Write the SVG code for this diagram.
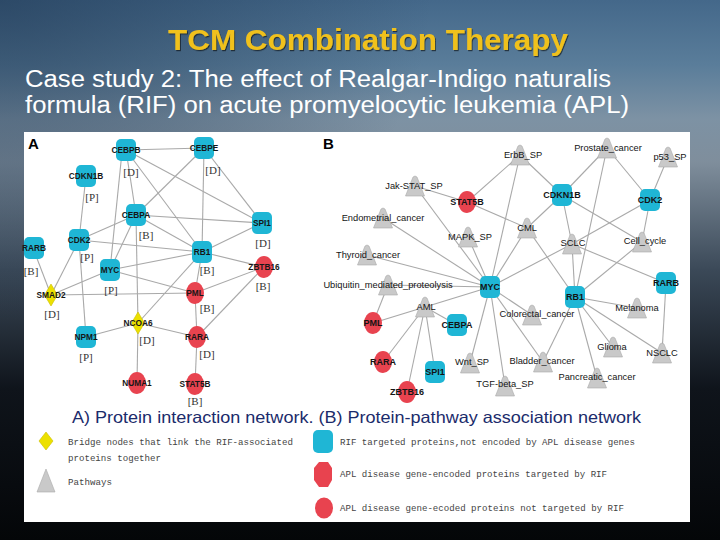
<svg xmlns="http://www.w3.org/2000/svg" xmlns:xlink="http://www.w3.org/1999/xlink" width="720" height="540" viewBox="0 0 720 540">
<defs>
<linearGradient id="bg" x1="0" y1="0" x2="0" y2="1">
<stop offset="0" stop-color="#44688a"/>
<stop offset="0.12" stop-color="#5a7d9a"/>
<stop offset="0.22" stop-color="#7d92a4"/>
<stop offset="0.3" stop-color="#7f8e9c"/>
<stop offset="0.5" stop-color="#3b4958"/>
<stop offset="0.72" stop-color="#0f141b"/>
<stop offset="1" stop-color="#040608"/>
</linearGradient>
<radialGradient id="lt" cx="0" cy="0" r="0.6">
<stop offset="0" stop-color="#1d3550" stop-opacity="0.6"/>
<stop offset="1" stop-color="#1d3550" stop-opacity="0"/>
</radialGradient>
<filter id="sh" x="-5%" y="-20%" width="110%" height="140%">
<feDropShadow dx="1" dy="1.2" stdDeviation="0.6" flood-color="#000" flood-opacity="0.55"/>
</filter>
<rect id="sq" x="-10" y="-11" width="20" height="22" rx="5"/>
<ellipse id="rc" rx="9" ry="11"/>
<polygon id="dm" points="0,-11 6.5,0 0,11 -6.5,0"/>
<polygon id="tri" points="0,-10 2,-9 9.5,10 -9.5,10 -2,-9"/>
<style>
.cy{fill:#1fb6d5}
.rd{fill:#e8434f}
.yw{fill:#ece000;stroke:#c9bd00;stroke-width:0.6}
.tr{fill:#c9c9c9;stroke:#a9a9a9;stroke-width:0.6}
.ed line{stroke:#a9a9a9;stroke-width:1.1}
.la{font-family:"Liberation Sans",Arial,sans-serif;font-size:8.3px;font-weight:bold;fill:#161616;text-anchor:middle}
.lb{font-family:"Liberation Sans",Arial,sans-serif;font-size:9.3px;fill:#141414;text-anchor:middle}
.lbp{font-family:"Liberation Sans",Arial,sans-serif;font-size:9px;font-weight:bold;fill:#141414;text-anchor:middle}
.br{font-family:"Liberation Serif","Times New Roman",serif;font-size:11px;fill:#333;text-anchor:middle}
.lg{font-family:"Liberation Mono","Courier New",monospace;font-size:9.2px;fill:#444}
.pl{font-family:"Liberation Sans",Arial,sans-serif;font-size:15px;font-weight:bold;fill:#000}
</style>
</defs>

<rect width="720" height="540" fill="url(#bg)"/>
<rect width="720" height="540" fill="url(#lt)"/>

<text x="368" y="50" font-family="Liberation Sans,Arial,sans-serif" font-size="29" font-weight="bold" fill="#f0c11e" text-anchor="middle" textLength="400" lengthAdjust="spacingAndGlyphs" filter="url(#sh)">TCM Combination Therapy</text>
<text x="25" y="87" font-family="Liberation Sans,Arial,sans-serif" font-size="23" fill="#ffffff" textLength="586" lengthAdjust="spacingAndGlyphs">Case study 2: The effect of Realgar-Indigo naturalis</text>
<text x="25" y="113" font-family="Liberation Sans,Arial,sans-serif" font-size="23" fill="#ffffff" textLength="604" lengthAdjust="spacingAndGlyphs">formula (RIF) on acute promyelocytic leukemia (APL)</text>

<rect x="24" y="132" width="666" height="390" fill="#ffffff"/>

<text class="pl" x="28" y="149">A</text>
<text class="pl" x="323" y="149">B</text>

<g id="connectors" class="ed">
<!-- Panel A -->
<line x1="126" y1="150" x2="204" y2="148"/>
<line x1="126" y1="150" x2="136" y2="215"/>
<line x1="122" y1="152" x2="110" y2="270"/>
<line x1="126" y1="150" x2="202" y2="252"/>
<line x1="126" y1="150" x2="262" y2="223"/>
<line x1="204" y1="148" x2="136" y2="215"/>
<line x1="204" y1="148" x2="202" y2="252"/>
<line x1="204" y1="148" x2="262" y2="223"/>
<line x1="86" y1="176" x2="79" y2="240"/>
<line x1="136" y1="215" x2="262" y2="223"/>
<line x1="136" y1="215" x2="202" y2="252"/>
<line x1="136" y1="215" x2="79" y2="240"/>
<line x1="136" y1="215" x2="110" y2="270"/>
<line x1="136" y1="215" x2="138" y2="323"/>
<line x1="79" y1="240" x2="202" y2="252"/>
<line x1="79" y1="240" x2="51" y2="295"/>
<line x1="79" y1="240" x2="86" y2="337"/>
<line x1="202" y1="252" x2="262" y2="223"/>
<line x1="202" y1="252" x2="264" y2="267"/>
<line x1="202" y1="252" x2="110" y2="270"/>
<line x1="202" y1="252" x2="138" y2="323"/>
<line x1="202" y1="252" x2="195" y2="293"/>
<line x1="110" y1="270" x2="51" y2="295"/>
<line x1="110" y1="270" x2="195" y2="293"/>
<line x1="33" y1="248" x2="51" y2="295"/>
<line x1="51" y1="295" x2="195" y2="293"/>
<line x1="264" y1="267" x2="195" y2="293"/>
<line x1="264" y1="267" x2="197" y2="337"/>
<line x1="195" y1="293" x2="197" y2="337"/>
<line x1="138" y1="323" x2="86" y2="337"/>
<line x1="138" y1="323" x2="197" y2="337"/>
<line x1="138" y1="323" x2="137" y2="383"/>
<line x1="197" y1="337" x2="195" y2="385"/>
<!-- Panel B -->
<line x1="520" y1="155" x2="467" y2="202"/>
<line x1="520" y1="155" x2="562" y2="195"/>
<line x1="520" y1="155" x2="490" y2="287"/>
<line x1="607" y1="148" x2="562" y2="195"/>
<line x1="607" y1="148" x2="650" y2="200"/>
<line x1="607" y1="148" x2="575" y2="297"/>
<line x1="668" y1="157" x2="650" y2="200"/>
<line x1="415" y1="186" x2="467" y2="202"/>
<line x1="415" y1="186" x2="490" y2="287"/>
<line x1="467" y1="202" x2="527" y2="228"/>
<line x1="562" y1="195" x2="527" y2="228"/>
<line x1="562" y1="195" x2="572" y2="244"/>
<line x1="562" y1="195" x2="642" y2="242"/>
<line x1="650" y1="200" x2="642" y2="242"/>
<line x1="650" y1="200" x2="572" y2="244"/>
<line x1="383" y1="218" x2="490" y2="287"/>
<line x1="468" y1="237" x2="490" y2="287"/>
<line x1="527" y1="228" x2="490" y2="287"/>
<line x1="527" y1="228" x2="575" y2="297"/>
<line x1="572" y1="244" x2="490" y2="287"/>
<line x1="572" y1="244" x2="575" y2="297"/>
<line x1="572" y1="244" x2="666" y2="283"/>
<line x1="642" y1="242" x2="575" y2="297"/>
<line x1="367" y1="255" x2="490" y2="287"/>
<line x1="388" y1="285" x2="490" y2="287"/>
<line x1="388" y1="285" x2="373" y2="323"/>
<line x1="490" y1="287" x2="425" y2="307"/>
<line x1="490" y1="287" x2="532" y2="315"/>
<line x1="490" y1="287" x2="543" y2="362"/>
<line x1="490" y1="287" x2="470" y2="363"/>
<line x1="490" y1="287" x2="505" y2="386"/>
<line x1="575" y1="297" x2="543" y2="362"/>
<line x1="575" y1="297" x2="637" y2="308"/>
<line x1="575" y1="297" x2="613" y2="347"/>
<line x1="575" y1="297" x2="662" y2="353"/>
<line x1="575" y1="297" x2="597" y2="378"/>
<line x1="666" y1="283" x2="662" y2="353"/>
<line x1="425" y1="307" x2="373" y2="323"/>
<line x1="425" y1="307" x2="383" y2="362"/>
<line x1="425" y1="307" x2="407" y2="392"/>
<line x1="425" y1="307" x2="435" y2="372"/>
<line x1="425" y1="307" x2="457" y2="325"/>
</g>

<!-- Panel A nodes -->
<g id="a-CEBPB"><use href="#sq" x="126" y="150" class="cy"/><text class="la" x="126" y="153">CEBPB</text><text class="br" x="131" y="176">[D]</text></g>
<g id="a-CEBPE"><use href="#sq" x="204" y="148" class="cy"/><text class="la" x="204" y="151">CEBPE</text><text class="br" x="213" y="174">[D]</text></g>
<g id="a-CDKN1B"><use href="#sq" x="86" y="176" class="cy"/><text class="la" x="86" y="179">CDKN1B</text><text class="br" x="92" y="201">[P]</text></g>
<g id="a-CEBPA"><use href="#sq" x="136" y="215" class="cy"/><text class="la" x="136" y="218">CEBPA</text><text class="br" x="146" y="239">[B]</text></g>
<g id="a-SPI1"><use href="#sq" x="262" y="223" class="cy"/><text class="la" x="262" y="226">SPI1</text><text class="br" x="263" y="247">[D]</text></g>
<g id="a-CDK2"><use href="#sq" x="79" y="240" class="cy"/><text class="la" x="79" y="243">CDK2</text><text class="br" x="87" y="261">[P]</text></g>
<g id="a-RARB"><use href="#sq" x="34" y="248" class="cy"/><text class="la" x="34" y="251">RARB</text><text class="br" x="31" y="275">[B]</text></g>
<g id="a-RB1"><use href="#sq" x="202" y="252" class="cy"/><text class="la" x="202" y="255">RB1</text><text class="br" x="207" y="274">[B]</text></g>
<g id="a-MYC"><use href="#sq" x="110" y="270" class="cy"/><text class="la" x="110" y="273">MYC</text><text class="br" x="111" y="294">[P]</text></g>
<g id="a-ZBTB16"><use href="#rc" x="264" y="267" class="rd"/><text class="la" x="264" y="270">ZBTB16</text><text class="br" x="263" y="290">[B]</text></g>
<g id="a-SMAD2"><use href="#dm" x="51" y="295" class="yw"/><text class="la" x="51" y="298">SMAD2</text><text class="br" x="52" y="318">[D]</text></g>
<g id="a-PML"><use href="#rc" x="195" y="293" class="rd"/><text class="la" x="195" y="296">PML</text><text class="br" x="207" y="312">[B]</text></g>
<g id="a-NPM1"><use href="#sq" x="86" y="337" class="cy"/><text class="la" x="86" y="340">NPM1</text><text class="br" x="86" y="361">[P]</text></g>
<g id="a-NCOA6"><use href="#dm" x="138" y="323" class="yw"/><text class="la" x="138" y="326">NCOA6</text><text class="br" x="147" y="344">[D]</text></g>
<g id="a-RARA"><use href="#rc" x="197" y="337" class="rd"/><text class="la" x="197" y="340">RARA</text><text class="br" x="207" y="358">[D]</text></g>
<g id="a-NUMA1"><use href="#rc" x="137" y="383" class="rd"/><text class="la" x="137" y="386">NUMA1</text></g>
<g id="a-STAT5B"><use href="#rc" x="195" y="384" class="rd"/><text class="la" x="195" y="387">STAT5B</text><text class="br" x="195" y="405" font-size="10">[B]</text></g>

<!-- Panel B nodes -->
<g id="b-ErbB_SP"><use href="#tri" x="520" y="155" class="tr"/><text class="lb" x="523" y="158">ErbB_SP</text></g>
<g id="b-Prostate_cancer"><use href="#tri" x="607" y="148" class="tr"/><text class="lb" x="608" y="151">Prostate_cancer</text></g>
<g id="b-p53_SP"><use href="#tri" x="668" y="157" class="tr"/><text class="lb" x="670" y="160">p53_SP</text></g>
<g id="b-Jak-STAT_SP"><use href="#tri" x="415" y="186" class="tr"/><text class="lb" x="414" y="189">Jak-STAT_SP</text></g>
<g id="b-Endometrial_cancer"><use href="#tri" x="383" y="218" class="tr"/><text class="lb" x="383" y="221">Endometrial_cancer</text></g>
<g id="b-MAPK_SP"><use href="#tri" x="468" y="237" class="tr"/><text class="lb" x="470" y="240">MAPK_SP</text></g>
<g id="b-CML"><use href="#tri" x="527" y="228" class="tr"/><text class="lb" x="527" y="231">CML</text></g>
<g id="b-SCLC"><use href="#tri" x="572" y="244" class="tr"/><text class="lb" x="573" y="246">SCLC</text></g>
<g id="b-Cell_cycle"><use href="#tri" x="642" y="242" class="tr"/><text class="lb" x="645" y="244">Cell_cycle</text></g>
<g id="b-Thyroid_cancer"><use href="#tri" x="367" y="255" class="tr"/><text class="lb" x="368" y="258">Thyroid_cancer</text></g>
<g id="b-Ubiquitin"><use href="#tri" x="388" y="285" class="tr"/><text class="lb" x="388" y="288">Ubiquitin_mediated_proteolysis</text></g>
<g id="b-AML"><use href="#tri" x="425" y="307" class="tr"/><text class="lb" x="426" y="310">AML</text></g>
<g id="b-Colorectal_cancer"><use href="#tri" x="532" y="315" class="tr"/><text class="lb" x="537" y="317">Colorectal_cancer</text></g>
<g id="b-Melanoma"><use href="#tri" x="637" y="308" class="tr"/><text class="lb" x="637" y="311">Melanoma</text></g>
<g id="b-Glioma"><use href="#tri" x="613" y="347" class="tr"/><text class="lb" x="612" y="350">Glioma</text></g>
<g id="b-NSCLC"><use href="#tri" x="662" y="353" class="tr"/><text class="lb" x="662" y="356">NSCLC</text></g>
<g id="b-Wnt_SP"><use href="#tri" x="470" y="363" class="tr"/><text class="lb" x="472" y="365">Wnt_SP</text></g>
<g id="b-Bladder_cancer"><use href="#tri" x="543" y="362" class="tr"/><text class="lb" x="542" y="364">Bladder_cancer</text></g>
<g id="b-TGF-beta_SP"><use href="#tri" x="505" y="386" class="tr"/><text class="lb" x="505" y="387">TGF-beta_SP</text></g>
<g id="b-Pancreatic_cancer"><use href="#tri" x="597" y="378" class="tr"/><text class="lb" x="597" y="380">Pancreatic_cancer</text></g>
<g id="b-STAT5B"><use href="#rc" x="467" y="202" class="rd"/><text class="lbp" x="467" y="205">STAT5B</text></g>
<g id="b-CDKN1B"><use href="#sq" x="562" y="195" class="cy"/><text class="lbp" x="562" y="198">CDKN1B</text></g>
<g id="b-CDK2"><use href="#sq" x="650" y="200" class="cy"/><text class="lbp" x="650" y="203">CDK2</text></g>
<g id="b-MYC"><use href="#sq" x="490" y="287" class="cy"/><text class="lbp" x="490" y="290">MYC</text></g>
<g id="b-RB1"><use href="#sq" x="575" y="297" class="cy"/><text class="lbp" x="575" y="300">RB1</text></g>
<g id="b-RARB"><use href="#sq" x="666" y="283" class="cy"/><text class="lbp" x="666" y="286">RARB</text></g>
<g id="b-PML"><use href="#rc" x="373" y="323" class="rd"/><text class="lbp" x="373" y="326">PML</text></g>
<g id="b-CEBPA"><use href="#sq" x="457" y="325" class="cy"/><text class="lbp" x="457" y="328">CEBPA</text></g>
<g id="b-RARA"><use href="#rc" x="383" y="362" class="rd"/><text class="lbp" x="383" y="365">RARA</text></g>
<g id="b-SPI1"><use href="#sq" x="435" y="372" class="cy"/><text class="lbp" x="435" y="375">SPI1</text></g>
<g id="b-ZBTB16"><use href="#rc" x="407" y="392" class="rd"/><text class="lbp" x="407" y="395">ZBTB16</text></g>

<text x="72" y="423" font-family="Liberation Sans,Arial,sans-serif" font-size="16.5" fill="#1b2b6b" textLength="569" lengthAdjust="spacingAndGlyphs">A) Protein interaction network. (B) Protein-pathway association network</text>

<!-- Legend -->
<g id="legend">
<polygon points="46,432 53,441 46,450 39,441" class="yw"/>
<text class="lg" x="68" y="445" textLength="225" lengthAdjust="spacingAndGlyphs">Bridge nodes that link the RIF-associated</text>
<text class="lg" x="68" y="461" textLength="93" lengthAdjust="spacingAndGlyphs">proteins together</text>
<polygon points="46,469 55,492 37,492" class="tr"/>
<text class="lg" x="68" y="485" textLength="44" lengthAdjust="spacingAndGlyphs">Pathways</text>
<rect x="313" y="430" width="20" height="23" rx="5" class="cy"/>
<text class="lg" x="340" y="445" textLength="295" lengthAdjust="spacingAndGlyphs">RIF targeted proteins,not encoded by APL disease genes</text>
<polygon points="319,462 328,462 332,468 332,480 328,487 319,487 314,480 314,468" class="rd"/>
<text class="lg" x="340" y="477" textLength="267" lengthAdjust="spacingAndGlyphs">APL disease gene-encoded proteins targeted by RIF</text>
<ellipse cx="324" cy="508" rx="9" ry="10.5" class="rd"/>
<text class="lg" x="340" y="511" textLength="284" lengthAdjust="spacingAndGlyphs">APL disease gene-ecoded proteins not targeted by RIF</text>
</g>
</svg>
